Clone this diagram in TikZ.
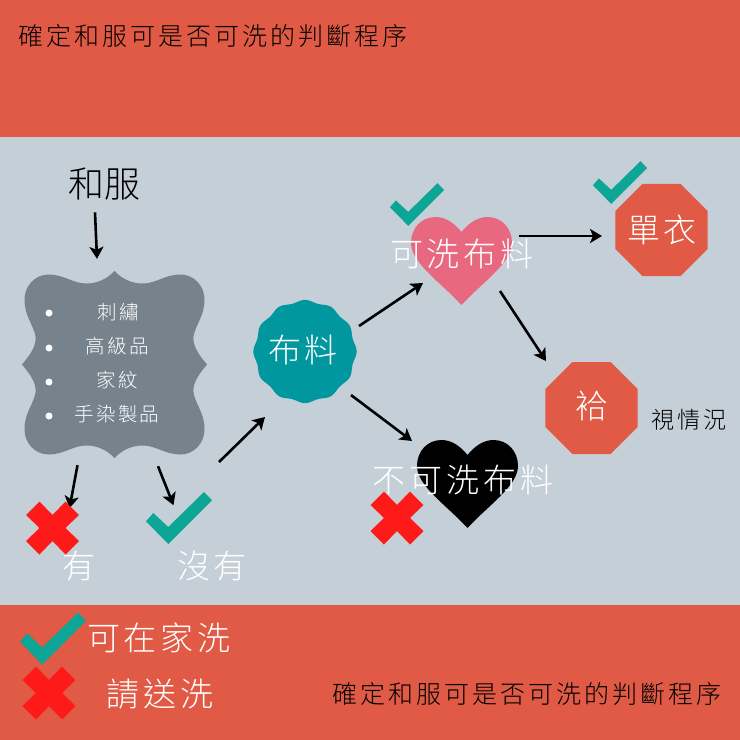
\documentclass[tikz,border=0pt]{standalone}
\usepackage{fontspec}
\setmainfont{Noto Sans CJK TC}[UprightFont=* Light, LetterSpace=12]
\usetikzlibrary{arrows,arrows.meta,shapes.geometric}
\definecolor{bandred}{HTML}{E05A45}
\definecolor{paleblue}{HTML}{C5CFD8}
\definecolor{framegray}{HTML}{76828C}
\definecolor{sealteal}{HTML}{00979E}
\definecolor{checkteal}{HTML}{0DA595}
\definecolor{crossred}{HTML}{FF1A1A}
\definecolor{heartpink}{HTML}{E8697F}
\tikzset{
%Define standard arrow tip
>={Stealth[length=12pt,width=14pt,inset=3pt]},
%Define style for different line styles
flow/.style={->, line width=2.6pt},
label/.style={inner sep=0pt, font=\fontsize{33}{33}\selectfont},
white label/.style={label, text=white},
small label/.style={inner sep=0pt, text=white, font=\fontsize{19.5}{20}\selectfont},
title/.style={inner sep=0pt, font=\fontsize{25}{25}\selectfont},
stop/.style={regular polygon, regular polygon sides=8, fill=bandred, inner sep=0pt, minimum size=99.6pt},
holder/.style={inner sep=0pt},
check/.pic={
    \fill[checkteal] (-33,3.3) -- (-25.7,-5) -- (-10.7,9) -- (25,-26) -- (33,-17.7) -- (-10.7,26) -- cycle;
},
cross/.pic={
    \fill[crossred] (-26.5,-13) -- (-13,-26.5) -- (0,-13) -- (13,-26.5) -- (26.5,-13) -- (13,0)
        -- (26.5,13) -- (13,26.5) -- (0,13) -- (-13,26.5) -- (-26.5,13) -- (-13,0) -- cycle;
},
heart/.pic={
    \fill (0,-29) .. controls (-8,-39) and (-17,-44) .. (-26,-44)
        .. controls (-40,-44) and (-50.5,-33) .. (-50.5,-18)
        .. controls (-50.5,2) and (-20,22) .. (0,44)
        .. controls (20,22) and (50.5,2) .. (50.5,-18)
        .. controls (50.5,-33) and (40,-44) .. (26,-44)
        .. controls (17,-44) and (8,-39) .. (0,-29) -- cycle;
},
}

\begin{document}
\begin{tikzpicture}[x=1pt,y=-1pt]

    % background and bands
    \fill[paleblue] (0,0) rectangle (740,740);
    \fill[bandred] (0,0) rectangle (740,137);
    \fill[bandred] (0,605) rectangle (740,740);
    \useasboundingbox (0,0) rectangle (740,740);

    \node[title, anchor=west] (toptitle) at (18,36) {確定和服可是否可洗的判斷程序};
    \node[title, anchor=east] (bottomtitle) at (722,694) {確定和服可是否可洗的判斷程序};

    % scalloped frame
    \begin{scope}[shift={(114.5,364.5)}]
      \fill[framegray] (0,-93.5) .. controls (-8,-85) and (-18,-81) .. (-28,-81)
          .. controls (-42,-81) and (-50,-90) .. (-66,-90)
          .. controls (-80,-90) and (-90,-78) .. (-90,-65)
          .. controls (-90,-48) and (-81,-40) .. (-79,-28)
          .. controls (-78,-18) and (-85,-9) .. (-92.5,0)
          .. controls (-85,9) and (-78,18) .. (-79,28)
          .. controls (-81,40) and (-90,48) .. (-90,65)
          .. controls (-90,78) and (-80,90) .. (-66,90)
          .. controls (-50,90) and (-42,81) .. (-28,81)
          .. controls (-18,81) and (-8,85) .. (0,93.5)
          .. controls (8,85) and (18,81) .. (28,81)
          .. controls (42,81) and (50,90) .. (66,90)
          .. controls (80,90) and (90,78) .. (90,65)
          .. controls (90,48) and (81,40) .. (79,28)
          .. controls (78,18) and (85,9) .. (92.5,0)
          .. controls (85,-9) and (78,-18) .. (79,-28)
          .. controls (81,-40) and (90,-48) .. (90,-65)
          .. controls (90,-78) and (80,-90) .. (66,-90)
          .. controls (50,-90) and (42,-81) .. (28,-81)
          .. controls (18,-81) and (8,-85) .. (0,-93.5) -- cycle;
    \end{scope}
    \node[holder, minimum width=185pt, minimum height=187pt] (frame) at (114.5,364.5) {};

    % list in the frame
    \foreach \y in {313,348,382,416}
      \fill[white] (49,\y) circle (3.5);
    \node[small label] (item1) at (118,312) {刺繡};
    \node[small label] (item2) at (117,346) {高級品};
    \node[small label] (item3) at (117,380) {家紋};
    \node[small label] (item4) at (117,414) {手染製品};

    % wavy seal
    \fill[sealteal] plot[smooth cycle, samples=72, domain=0:355, variable=\t]
        ({305+(50.5+1.2*cos(12*\t))*cos(\t)},{351.5+(50.5+1.2*cos(12*\t))*sin(\t)});
    \node[white label] (fabric) at (303,350) {布料};

    % hearts, stop signs
    \pic[heartpink] at (461.5,261) {heart};
    \pic[black] at (467.5,484) {heart};
    \node[stop] (single) at (661.5,230) {};
    \node[stop] (lined) at (591.5,408) {};

    \node[label, font=\fontsize{36}{36}\selectfont\addfontfeature{LetterSpace=0}] (kimono) at (104,184) {和服};
    \node[white label] (washable) at (462,254) {可洗布料};
    \node[white label] (unwashable) at (463,480) {不可洗布料};
    \node[white label] (singletext) at (662,230) {單衣};
    \node[white label] (linedtext) at (591.5,406.5) {袷};
    \node[label, font=\fontsize{23}{23}\selectfont] (depends) at (689,419.5) {視情況};
    \node[white label] (yes) at (79,566) {有};
    \node[white label] (no) at (212,566) {沒有};
    \node[white label] (athome) at (159,638) {可在家洗};
    \node[white label] (cleaner) at (160,694) {請送洗};

    % flow
    \draw[flow] ([shift={(-9,12)}]kimono.south) -- ([shift={(-17.5,-12)}]frame.north);
    \draw[flow] ([shift={(-37,7)}]frame.south) -- ([shift={(-45,50)}]frame.south);
    \draw[flow] ([shift={(43.5,8)}]frame.south) -- ([shift={(59,47)}]frame.south);
    \draw[flow] ([shift={(7,-104)}]no.center) -- ([shift={(-38,67)}]fabric.center);
    \draw[flow] ([shift={(56,-24)}]fabric.center) -- ([shift={(-39,29)}]washable.center);
    \draw[flow] ([shift={(57,-18)}]washable.center) -- ([shift={(-59.5,6)}]single.center);
    \draw[flow] ([shift={(38,37)}]washable.center) -- ([shift={(-45.5,-47)}]lined.center);
    \draw[flow] ([shift={(48,45)}]fabric.center) -- ([shift={(-51,-39)}]unwashable.center);

    % marks
    \pic[scale=0.82] at (417,204.5) {check};
    \pic[scale=0.82] at (620,182.5) {check};
    \pic at (179,518) {check};
    \pic at (53,638.5) {check};
    \pic at (52.5,528) {cross};
    \pic at (397,518) {cross};
    \pic at (49,693) {cross};

\end{tikzpicture}
\end{document}
